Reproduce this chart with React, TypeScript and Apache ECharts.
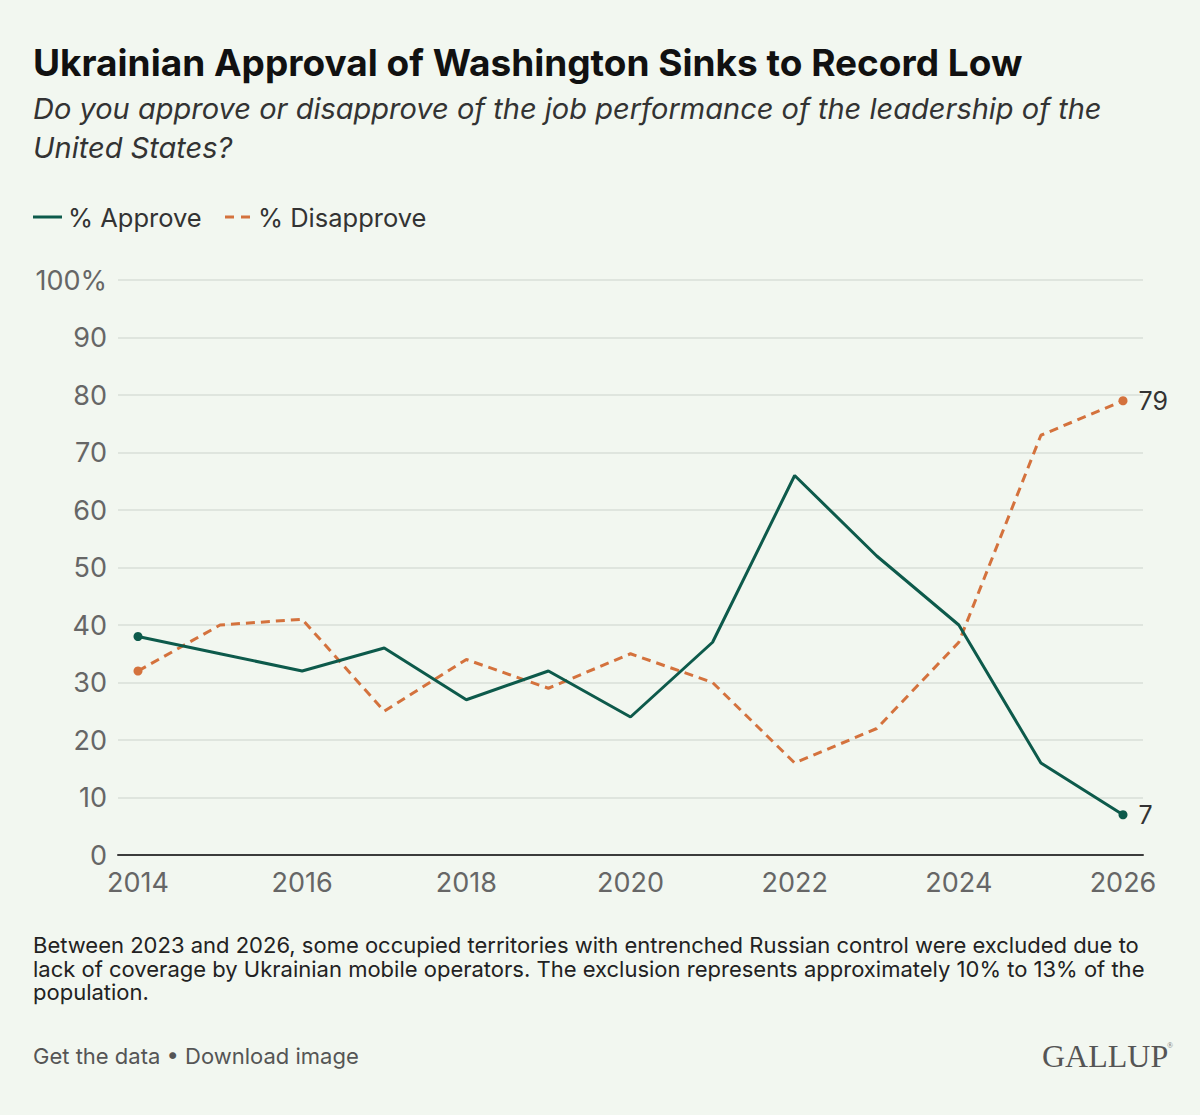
import React, { useEffect, useRef } from "react";
import * as echarts from "echarts";

const years = [2014, 2015, 2016, 2017, 2018, 2019, 2020, 2021, 2022, 2023, 2024, 2025, 2026];
const approve = [38, 35, 32, 36, 27, 32, 24, 37, 66, 52, 40, 16, 7];
const disapprove = [32, 40, 41, 25, 34, 29, 35, 30, 16, 22, 37, 73, 79];
const seriesNames = ["% Approve", "% Disapprove"];
const yTickLabels = ["0", "10", "20", "30", "40", "50", "60", "70", "80", "90", "100%"];

const titleText = "Ukrainian Approval of Washington Sinks to Record Low";
const subtitleLines = [
  "Do you approve or disapprove of the job performance of the leadership of the",
  "United States?",
];
const footnoteLines = [
  "Between 2023 and 2026, some occupied territories with entrenched Russian control were excluded due to",
  "lack of coverage by Ukrainian mobile operators. The exclusion represents approximately 10% to 13% of the",
  "population.",
];
const footerText = "Get the data \u2022 Download image";

const GREEN = "#0d5a4b";
const ORANGE = "#d4723d";
const BG = "#f2f7f0";
const FONT = "Inter, Roboto, 'Noto Sans', sans-serif";

function buildData(vals: number[], color: string) {
  const last = vals.length - 1;
  return vals.map((v, i) => {
    if (i === 0) {
      return { value: [years[i], v], symbol: "circle", symbolSize: 9, itemStyle: { color } };
    }
    if (i === last) {
      return {
        value: [years[i], v],
        symbol: "circle",
        symbolSize: 9,
        itemStyle: { color },
        label: {
          show: true,
          position: "right",
          distance: 11,
          formatter: String(v),
          fontSize: 25,
          color: "#333",
          fontFamily: FONT,
        },
      };
    }
    return { value: [years[i], v], symbol: "none" };
  });
}

export default function App() {
  const ref = useRef<HTMLDivElement>(null);

  useEffect(() => {
    document.body.style.margin = "0";
    document.body.style.background = BG;
    if (!ref.current) return;
    const chart = echarts.init(ref.current, undefined, { renderer: "svg" });
    const option: any = {
      animation: false,
      backgroundColor: BG,
      textStyle: { fontFamily: FONT },
      grid: [
        { left: 138, right: 77, top: 280, bottom: 260 },
        { left: 118, right: 57, top: 280, bottom: 260 },
      ],
      xAxis: [
        {
          type: "value",
          gridIndex: 0,
          min: 2014,
          max: 2026,
          interval: 2,
          axisLine: { show: false },
          axisTick: { show: false },
          splitLine: { show: false },
          axisLabel: {
            fontSize: 27,
            color: "#666",
            margin: 14,
            fontFamily: FONT,
            formatter: (v: number) => String(v),
          },
        },
        {
          type: "value",
          gridIndex: 1,
          min: 0,
          max: 1,
          axisLine: { show: true, onZero: false, lineStyle: { color: "#3c3c3c", width: 2 } },
          axisTick: { show: false },
          splitLine: { show: false },
          axisLabel: { show: false },
        },
      ],
      yAxis: [
        { type: "value", gridIndex: 0, min: 0, max: 100, show: false },
        {
          type: "value",
          gridIndex: 1,
          min: 0,
          max: 100,
          interval: 10,
          axisLine: { show: false },
          axisTick: { show: false },
          splitLine: { show: true, lineStyle: { color: "#d9dfd8", width: 1.5 } },
          axisLabel: {
            fontSize: 27,
            color: "#666",
            margin: 11,
            fontFamily: FONT,
            formatter: (v: number) => yTickLabels[Math.round(v / 10)],
          },
        },
      ],
      series: [
        {
          name: seriesNames[0],
          type: "line",
          xAxisIndex: 0,
          yAxisIndex: 0,
          symbol: "none",
          showSymbol: true,
          lineStyle: { color: GREEN, width: 3 },
          itemStyle: { color: GREEN },
          data: buildData(approve, GREEN),
          z: 4,
        },
        {
          name: seriesNames[1],
          type: "line",
          xAxisIndex: 0,
          yAxisIndex: 0,
          symbol: "none",
          showSymbol: true,
          lineStyle: { color: ORANGE, width: 3, type: [9, 6] },
          itemStyle: { color: ORANGE },
          data: buildData(disapprove, ORANGE),
          z: 3,
        },
      ],
      graphic: [
        {
          type: "text",
          x: 33,
          y: 62,
          style: {
            text: titleText,
            font: `bold 37px ${FONT}`,
            fill: "#111",
            verticalAlign: "middle",
          },
        },
        ...subtitleLines.map((t, i) => ({
          type: "text",
          x: 33,
          y: 108 + i * 39,
          style: {
            text: t,
            font: `italic 29px ${FONT}`,
            fill: "#333",
            verticalAlign: "middle",
          },
        })),
        // legend
        {
          type: "line",
          shape: { x1: 33, y1: 217, x2: 62, y2: 217 },
          style: { stroke: GREEN, lineWidth: 3 },
        },
        {
          type: "text",
          x: 68,
          y: 217,
          style: {
            text: seriesNames[0],
            font: `25.5px ${FONT}`,
            fill: "#333",
            verticalAlign: "middle",
          },
        },
        {
          type: "line",
          shape: { x1: 225, y1: 217, x2: 251, y2: 217 },
          style: { stroke: ORANGE, lineWidth: 3, lineDash: [9, 7] },
        },
        {
          type: "text",
          x: 258,
          y: 217,
          style: {
            text: seriesNames[1],
            font: `25.5px ${FONT}`,
            fill: "#333",
            verticalAlign: "middle",
          },
        },
        ...footnoteLines.map((t, i) => ({
          type: "text",
          x: 33,
          y: 945 + i * 23.5,
          style: {
            text: t,
            font: `22px ${FONT}`,
            fill: "#222",
            verticalAlign: "middle",
          },
        })),
        {
          type: "text",
          x: 33,
          y: 1056,
          style: {
            text: footerText,
            font: `22px ${FONT}`,
            fill: "#555",
            verticalAlign: "middle",
          },
        },
        {
          type: "text",
          x: 1042,
          y: 1056,
          style: {
            text: "GALLUP",
            font: `32px 'Liberation Serif', serif`,
            fill: "#555",
            verticalAlign: "middle",
          },
        },
        {
          type: "text",
          x: 1167,
          y: 1045,
          style: {
            text: "\u00ae",
            font: `8px 'Liberation Serif', serif`,
            fill: "#777",
            verticalAlign: "middle",
          },
        },
      ],
    };
    chart.setOption(option);
    return () => chart.dispose();
  }, []);

  return <div ref={ref} style={{ width: 1200, height: 1115, background: BG }} />;
}
